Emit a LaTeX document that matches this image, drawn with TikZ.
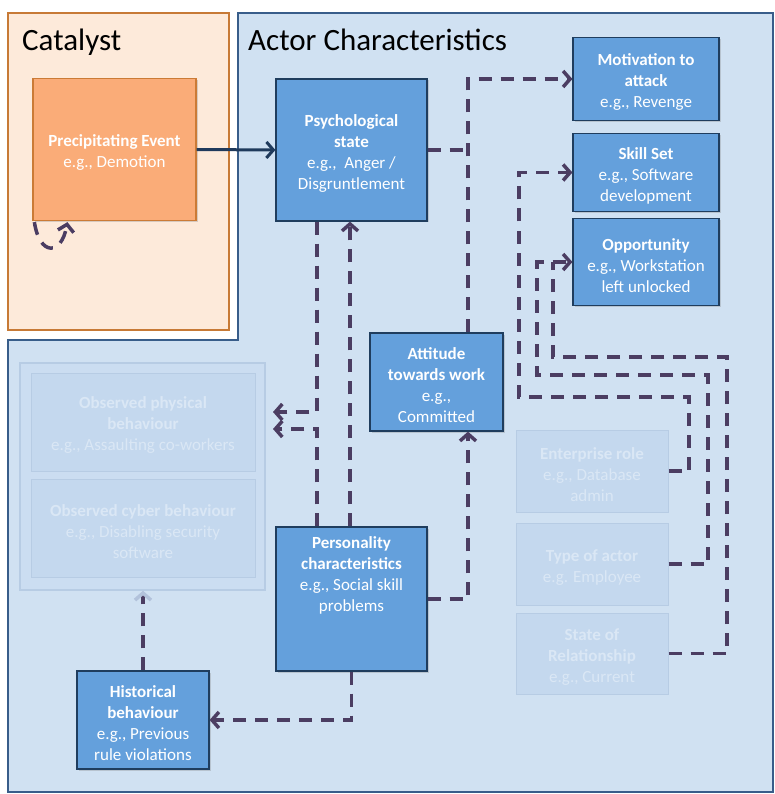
\documentclass[tikz,border=0pt]{standalone}
\usepackage{fontspec}
\setmainfont{Carlito}
\usetikzlibrary{arrows.meta,calc,shadows}
\definecolor{catbg}{HTML}{FDEADA}
\definecolor{catbd}{HTML}{C77A36}
\definecolor{actbg}{HTML}{D0E1F2}
\definecolor{actbd}{HTML}{385D8A}
\definecolor{nodebl}{HTML}{64A0DC}
\definecolor{nodebd}{HTML}{1F3D5E}
\definecolor{orfill}{HTML}{FAAC78}
\definecolor{orbd}{HTML}{CB7B36}
\definecolor{grpfill}{HTML}{CBDDF1}
\definecolor{fadefill}{HTML}{C4D8EE}
\definecolor{fadebd}{HTML}{B7CCE4}
\definecolor{fadetext}{HTML}{DAE7F5}
\definecolor{depc}{HTML}{4B3D62}
\definecolor{navy}{HTML}{1F3A5C}
\definecolor{fadetip}{HTML}{B2C2DB}
\newcommand\dnstrut{\rule{0pt}{18.5pt}}
\tikzset{
  box/.style={draw=nodebd, fill=nodebl, line width=1.2pt, text=white, align=center,
    inner sep=0pt, font=\fontsize{17}{21}\selectfont,
    drop shadow={shadow xshift=1.5pt, shadow yshift=-1.5pt, opacity=0.3}},
  obox/.style={box, draw=orbd, fill=orfill},
  fbox/.style={draw=fadebd, fill=fadefill, line width=1pt, text=fadetext, align=center,
    inner sep=0pt, font=\fontsize{17}{21}\selectfont},
  btxt/.style={text=white, align=center, inner sep=0pt, font=\fontsize{17}{21}\selectfont},
  dep/.style={draw=depc, line width=3.5pt, dash pattern=on 13pt off 9pt},
  arr/.style={-{Straight Barb[length=7pt,width=16pt]}},
  farr/.style={-{Straight Barb[length=7pt,width=16pt,color=fadetip]}},
  ttl/.style={anchor=base west, inner sep=0pt, font=\fontsize{31}{37}\selectfont},
}
\begin{document}
\begin{tikzpicture}[x=1pt,y=-1pt]
\useasboundingbox (0,0) rectangle (775,794);
% containers
\draw[fill=catbg, draw=catbd, line width=1.3pt] (8,13) rectangle (229,330);
\draw[fill=actbg, draw=actbd, line width=1.5pt] (238,13) -- (773,13) -- (773,792) -- (8,792) -- (8,340) -- (238,340) -- cycle;
\node[ttl] (cattitle) at (22,51) {Catalyst};
\node[ttl] (acttitle) at (248,51) {Actor Characteristics};

% faded group
\node[draw=fadebd, fill=grpfill, line width=1.5pt, minimum width=245pt, minimum height=227pt, inner sep=0pt] (group) at (142.5,476.5) {};
\node[fbox, minimum width=224pt, minimum height=98pt] (phys) at (143,422) {\dnstrut\textbf{Observed physical}\\\textbf{behaviour}\\e.g., Assaulting co-workers};
\node[fbox, minimum width=224pt, minimum height=98pt] (cyber) at (143,528) {\dnstrut\textbf{Observed cyber behaviour}\\e.g., Disabling security\\software};
\node[fbox, minimum width=152pt, minimum height=82pt] (ent) at (592,471) {\dnstrut\textbf{Enterprise role}\\e.g., Database\\admin};
\node[fbox, minimum width=152pt, minimum height=82pt] (type) at (592,564) {\dnstrut\textbf{Type of actor}\\e.g. Employee};
\node[fbox, minimum width=152pt, minimum height=81pt] (rel) at (592,653.5) {\dnstrut\textbf{State of}\\\textbf{Relationship}\\e.g., Current};

% main nodes
\node[obox, minimum width=163pt, minimum height=142pt] (prec) at (114.5,149.5) {\dnstrut\textbf{Precipitating Event}\\e.g., Demotion};
\node[box, minimum width=151pt, minimum height=142pt] (psych) at (351.5,150) {\dnstrut\textbf{Psychological}\\\textbf{state}\\e.g.,~ Anger /\\Disgruntlement};
\node[box, minimum width=146pt, minimum height=83pt] (motiv) at (646,79) {\dnstrut\textbf{Motivation to}\\\textbf{attack}\\e.g., Revenge};
\node[box, minimum width=146pt, minimum height=78pt] (skill) at (646,172.5) {\dnstrut\textbf{Skill Set}\\e.g., Software\\development};
\node[box, minimum width=146pt, minimum height=87pt] (opp) at (646,262) {\dnstrut\textbf{Opportunity}\\e.g., Workstation\\left unlocked};
\node[box, minimum width=133pt, minimum height=98pt] (att) at (436.5,382) {\dnstrut\textbf{Attitude}\\\textbf{towards work}\\e.g.,\\Committed};
\node[box, minimum width=151pt, minimum height=144pt] (pers) at (351.5,599) {};
\node[btxt] (perstext) at (351.5,575) {\textbf{Personality}\\\textbf{characteristics}\\e.g., Social skill\\problems};
\node[box, minimum width=132pt, minimum height=98pt] (hist) at (143,720) {\dnstrut\textbf{Historical}\\\textbf{behaviour}\\e.g., Previous\\rule violations};

% helper coordinates
\coordinate (j1) at (468,0);
\coordinate (v1) at (317,0);
\coordinate (v2) at (350,0);
\coordinate (jskill) at (519,0);
\coordinate (jopp1) at (537,0);
\coordinate (jopp2) at (553,0);
\coordinate (r1) at (689,0);
\coordinate (r2) at (708,0);
\coordinate (r3) at (727,0);
\coordinate (h1) at (0,397);
\coordinate (h2) at (0,375);
\coordinate (h3) at (0,357);
\coordinate (pin1) at (273,412);
\coordinate (pin2) at (273,429);

% solid connector
\draw[navy, line width=3pt, arr] (prec.east) -- (psych.west);
% self loop
\draw[dep, arr] ([xshift=2pt,yshift=-1pt]prec.south west) .. controls +(5,34) and +(-6,34) .. ([xshift=35pt,yshift=-1pt]prec.south west);

% dashed connectors
\draw[dep] (psych.east) -- (psych.east -| j1);
\draw[dep, arr] (att.north -| j1) |- (motiv.west);
\draw[dep, arr] (pers.east) -| (att.south -| j1);
\draw[dep, arr] (pers.north -| v2) -- (psych.south -| v2);
\draw[dep, arr] (psych.south -| v1) |- (pin1);
\draw[dep, arr] (pers.north -| v1) |- (pin2);
\draw[dep, arr] (pers.south) |- (hist.east);
\draw[dep, farr] (hist.north) -- (hist.north |- group.south);

\draw[dep, arr] (ent.east) -- (ent.east -| r1) -- (r1 |- h1) -- (jskill |- h1) -- (jskill |- skill.west) -- (skill.west);
\draw[dep, arr] (type.east) -- (type.east -| r2) -- (r2 |- h2) -- (jopp1 |- h2) -- (jopp1 |- opp.west) -- (opp.west);
\draw[dep] (rel.east) -- (rel.east -| r3) -- (r3 |- h3) -- (jopp2 |- h3) -- (jopp2 |- opp.west);
\end{tikzpicture}
\end{document}
